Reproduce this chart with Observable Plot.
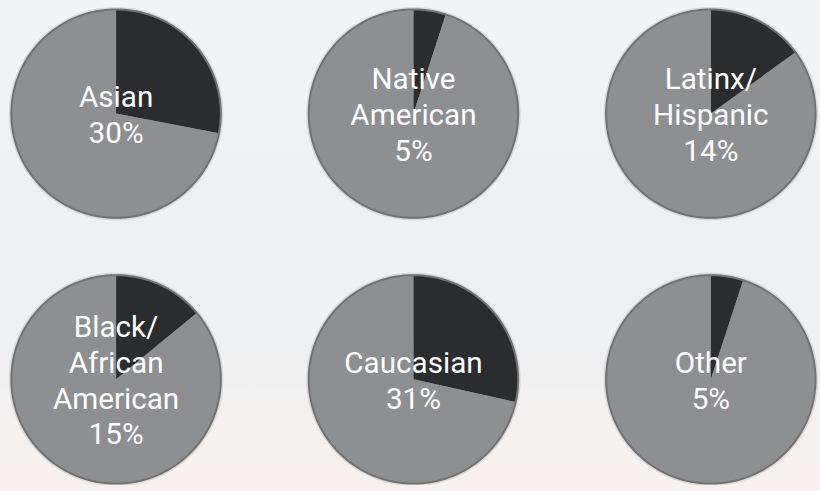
<!DOCTYPE html>
<html>
<head>
<meta charset="utf-8">
<script src="https://cdn.jsdelivr.net/npm/d3@7"></script>
<script src="https://cdn.jsdelivr.net/npm/@observablehq/plot@0.6"></script>
<style>
  html, body { margin: 0; padding: 0; width: 820px; height: 491px; overflow: hidden; }
  body { background: linear-gradient(to bottom, #f3f4f6 0%, #eef0f3 35%, #eff0f2 70%, #f7f1ed 100%); }
  #chart svg { display: block; background: transparent !important; }
</style>
</head>
<body>
<div id="chart"></div>
<script>
// ---- data ----
const groups = ["Asian", "Native American", "Latinx/Hispanic", "Black/African American", "Caucasian", "Other"];
const labelLines = [
  ["Asian"],
  ["Native", "American"],
  ["Latinx/", "Hispanic"],
  ["Black/", "African", "American"],
  ["Caucasian"],
  ["Other"]
];
const pctLabels = ["30%", "5%", "14%", "15%", "31%", "5%"];
// dark slice share (percent) as drawn in each pie
const sliceShares = [28, 5, 15, 14, 28.5, 5];
const gridCol = [0, 1, 2, 0, 1, 2];
const gridRow = [0, 0, 0, 1, 1, 1];

// ---- build one table for all marks ----
const rows = [];
function arc(i, part, a0, a1) {
  const n = Math.max(2, Math.ceil((a1 - a0) / (Math.PI / 180)));
  const series = groups[i] + "|" + part;
  if (part !== "rim") rows.push({type: part, series, col: gridCol[i], row: gridRow[i], x: 0, y: 0});
  for (let k = 0; k <= n; ++k) {
    const a = a0 + (a1 - a0) * k / n;
    rows.push({type: part, series, col: gridCol[i], row: gridRow[i], x: Math.sin(a), y: Math.cos(a)});
  }
}
groups.forEach((g, i) => {
  const a = sliceShares[i] / 100 * 2 * Math.PI;
  arc(i, "rest", a, 2 * Math.PI);
  arc(i, "slice", 0, a);
  arc(i, "rim", 0, 2 * Math.PI);
  rows.push({type: "label", series: g, col: gridCol[i], row: gridRow[i],
             text: labelLines[i].concat([pctLabels[i]]).join("\n")});
});

const chart = Plot.plot({
  width: 830,
  height: 491,
  marginLeft: 10,
  marginRight: 5,
  marginTop: 8,
  marginBottom: 1,
  style: {background: "transparent", fontFamily: "Roboto, sans-serif"},
  facet: {data: rows, x: "col", y: "row", marginTop: 0, marginRight: 0, marginBottom: 0, marginLeft: 0},
  fx: {domain: [0, 1, 2], axis: null, paddingInner: 0.2968, paddingOuter: 0},
  fy: {domain: [0, 1], axis: null, paddingInner: 0.2148, paddingOuter: 0},
  x: {domain: [-1, 1], axis: null},
  y: {domain: [-1, 1], axis: null},
  marks: [
    Plot.line(rows, {filter: d => d.type === "rim", x: "x", y: "y", z: "series",
      stroke: "#000", strokeOpacity: 0.10, strokeWidth: 5, fill: "none"}),
    Plot.line(rows, {filter: d => d.type === "rest", x: "x", y: "y", z: "series",
      fill: "#8e8f91", stroke: "none"}),
    Plot.line(rows, {filter: d => d.type === "slice", x: "x", y: "y", z: "series",
      fill: "#2b2c2e", stroke: "none"}),
    Plot.line(rows, {filter: d => d.type === "rim", x: "x", y: "y", z: "series",
      stroke: "#717274", strokeWidth: 2, fill: "none"}),
    Plot.text(rows, {filter: d => d.type === "label", text: "text", frameAnchor: "middle",
      fill: "white", fontSize: 30, lineHeight: 1.2, fontFamily: "Roboto", fontWeight: 400})
  ]
});
document.getElementById("chart").appendChild(chart);
</script>
</body>
</html>
